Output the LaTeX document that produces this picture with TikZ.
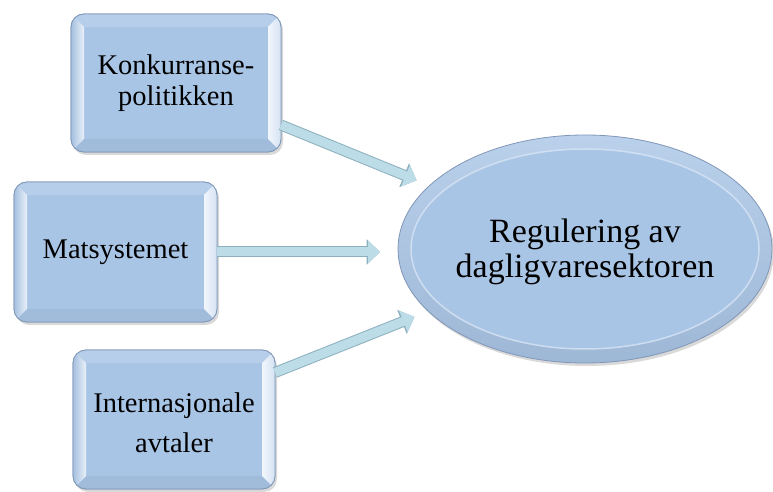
\documentclass[tikz,border=0pt]{standalone}
\usepackage{fontspec}
\setmainfont{Liberation Serif}
\usetikzlibrary{shapes.geometric,arrows.meta,shadows}
\definecolor{boxfill}{HTML}{A9C5E6}
\definecolor{boxedge}{HTML}{8197B8}
\definecolor{arrfill}{HTML}{BCDDE8}
\definecolor{arredge}{HTML}{8DB0BE}
\tikzset{
  srcbox/.style={draw=boxedge, line width=0.8pt, fill=boxfill, rounded corners=13pt,
    inner sep=0pt, outer sep=0pt,
    drop shadow={shadow xshift=2pt, shadow yshift=-3pt, opacity=0.25, fill=black!60}},
  boxtext/.style={align=center, inner sep=0pt, font=\fontsize{28.5}{31}\selectfont},
  regell/.style={ellipse, draw=boxedge, line width=0.8pt, inner sep=0pt, outer sep=0pt,
    top color=white!20!boxfill, bottom color=boxfill!93!black,
    minimum width=374pt, minimum height=228pt,
    drop shadow={shadow xshift=2pt, shadow yshift=-3pt, opacity=0.25, fill=black!60}},
  regtext/.style={align=center, inner sep=0pt, font=\fontsize{34}{35}\selectfont},
  fatarrow/.style={line width=9pt, draw=arrfill,
    -{Triangle[length=12pt,width=22pt]},
    preaction={draw=arredge, line width=11pt, -{Triangle[length=13.5pt,width=25pt]}}},
}
\newcommand{\bevelof}[1]{%
  \begin{scope}
    \clip[rounded corners=13pt] (#1.south west) rectangle (#1.north east);
    \coordinate (iNW) at ([shift={(13pt,-13pt)}]#1.north west);
    \coordinate (iNE) at ([shift={(-13pt,-13pt)}]#1.north east);
    \coordinate (iSW) at ([shift={(13pt,13pt)}]#1.south west);
    \coordinate (iSE) at ([shift={(-13pt,13pt)}]#1.south east);
    \fill[white!15!boxfill] (#1.north west) -- (#1.north east) -- (iNE) -- (iNW) -- cycle;
    \fill[boxfill!95!black] (#1.south west) -- (#1.south east) -- (iSE) -- (iSW) -- cycle;
    \shade[left color=boxfill!97!black, right color=white!75!boxfill]
      (#1.north west) -- (iNW) -- (iSW) -- (#1.south west) -- cycle;
    \shade[left color=white!85!boxfill, right color=white!50!boxfill]
      (#1.north east) -- (iNE) -- (iSE) -- (#1.south east) -- cycle;
  \end{scope}
  \draw[boxedge, line width=0.8pt, rounded corners=13pt] (#1.south west) rectangle (#1.north east);
}
\begin{document}
\begin{tikzpicture}[x=1pt, y=1pt]
\useasboundingbox (0,0) rectangle (773,492);

% boxes
\node[srcbox, minimum width=210pt, minimum height=138pt] (b1) at (176,409) {};
\bevelof{b1}
\node[boxtext] (t1) at (b1.center) {Konkurranse-\\politikken};

\node[srcbox, minimum width=203pt, minimum height=140pt] (b2) at (115.5,240) {};
\bevelof{b2}
\node[boxtext] (t2) at (b2.center) {Matsystemet};

\node[srcbox, minimum width=202pt, minimum height=139pt] (b3) at (174,72.5) {};
\bevelof{b3}
\node[boxtext, font=\fontsize{28.5}{40}\selectfont] (t3) at ([yshift=-3pt]b3.center) {Internasjonale\\avtaler};

% ellipse
\node[regell] (reg) at (585,243) {};
\fill[boxfill] (reg.center) ellipse [x radius=174pt, y radius=100pt];
\draw[white!55!boxfill, line width=1.5pt, opacity=0.8] (reg.center) ellipse [x radius=174pt, y radius=100pt];
\node[regtext] (rt) at ([yshift=-3pt]reg.center) {Regulering av\\dagligvaresektoren};

% arrows
\coordinate (a1s) at ([yshift=-42pt]b1.east);
\coordinate (a3s) at ([yshift=47pt]b3.east);
\draw[fatarrow, shorten >=14pt] (a1s) -- (reg);
\draw[fatarrow, shorten >=18pt] (b2.east) -- (b2.east -| reg.west);
\draw[fatarrow, shorten >=15pt] (a3s) -- (reg);
\end{tikzpicture}
\end{document}
